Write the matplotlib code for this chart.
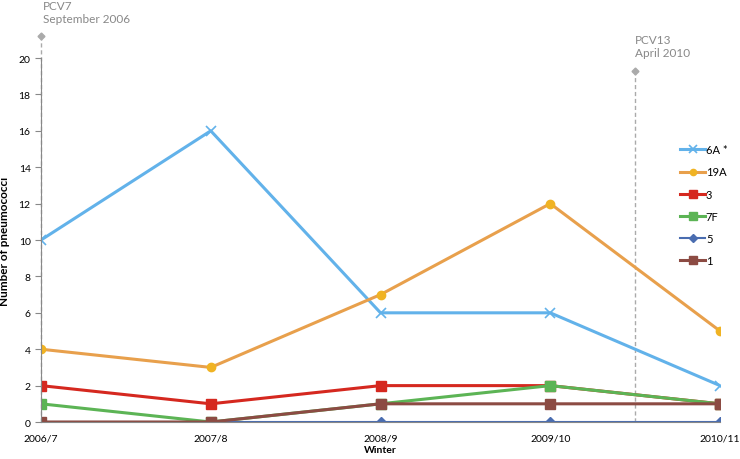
import matplotlib
matplotlib.use('Agg')
import matplotlib.pyplot as plt
import numpy as np

plt.rcParams['font.family'] = ['Lato', 'DejaVu Sans']

winters = ['2006/7', '2007/8', '2008/9', '2009/10', '2010/11']
s6a = [10, 16, 6, 6, 2]
s19a = [4, 3, 7, 12, 5]
s3 = [2, 1, 2, 2, 1]
s7f = [1, 0, 1, 2, 1]
s5 = [0, 0, 0, 0, 0]
s1 = [0, 0, 1, 1, 1]

x = np.arange(len(winters))

fig = plt.figure(figsize=(7.4, 4.6), dpi=100)
ax = fig.add_axes([0.0554, 0.0804, 0.9176, 0.7913])

ax.plot(x, s6a, color='#62b2ea', lw=2.2, marker='x', ms=7, mew=1.2, label='6A *')
ax.plot(x, s19a, color='#e8a04c', lw=2.2, marker='o', ms=6, mfc='#f0b323', mec='#f0b323', label='19A')
ax.plot(x, s3, color='#d5281f', lw=2.2, marker='s', ms=7, label='3')
ax.plot(x, s7f, color='#5cb455', lw=2.2, marker='s', ms=7, label='7F')
ax.plot(x, s5, color='#4a6db0', lw=1.5, marker='D', ms=5, label='5')
ax.plot(x, s1, color='#8c4b43', lw=2.2, marker='s', ms=7, label='1')

# vaccine introduction markers
ax.plot([0, 0], [0, 21.2], color='#aaaaaa', lw=1, ls=(0, (3, 2)), clip_on=False, zorder=0)
ax.plot([0], [21.2], marker='D', color='#aaaaaa', ms=3.5, clip_on=False)
ax.text(0.01, 21.85, 'PCV7\nSeptember 2006', color='#888888', fontsize=8.5, va='bottom', ha='left', linespacing=1.25)
ax.plot([3.5, 3.5], [0, 19.3], color='#aaaaaa', lw=1, ls=(0, (3, 2)), clip_on=False, zorder=0)
ax.plot([3.5], [19.3], marker='D', color='#aaaaaa', ms=3.5, clip_on=False)
ax.text(3.497, 20.0, 'PCV13\nApril 2010', color='#888888', fontsize=8.5, va='bottom', ha='left', linespacing=1.25)

ax.set_xlim(0, 4)
ax.set_ylim(0, 20)
ax.set_yticks(range(0, 21, 2))
ax.set_xticks(x)
ax.set_xticklabels(winters)
ax.tick_params(axis='x', length=0, labelsize=7.5, pad=8)
ax.tick_params(axis='y', length=4, color='#888888', labelsize=7.5)
for sp in ['top', 'right']:
    ax.spines[sp].set_visible(False)
ax.spines['left'].set_color('#888888')
ax.spines['bottom'].set_color('#888888')

ax.set_xlabel('Winter', fontsize=7.5, fontweight='bold', labelpad=2)
ax.set_ylabel('Number of pneumococci', fontsize=8.5, fontweight='bold', labelpad=6)

ax.legend(loc='upper left', bbox_to_anchor=(0.935, 0.775), frameon=False, fontsize=8,
          labelspacing=1.0, handlelength=2.2, handletextpad=0.1, borderaxespad=0,
          markerscale=0.75)

fig.savefig('out.png', dpi=100)
